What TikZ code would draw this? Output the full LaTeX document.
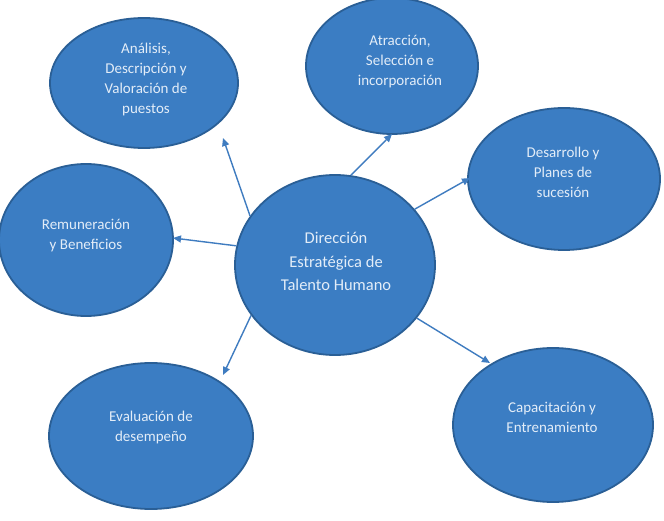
\documentclass[tikz,border=0pt]{standalone}
\usepackage{fontspec}
\setmainfont{Carlito}
\usetikzlibrary{shapes.geometric,arrows.meta,calc}
\definecolor{bubblefill}{HTML}{3B7DC3}
\definecolor{bubbleline}{HTML}{2A5F96}
\definecolor{bubbletext}{HTML}{E3EDF8}
\definecolor{arrowcol}{HTML}{3F7CC0}
\begin{document}
\begin{tikzpicture}[x=1pt,y=-1pt,
  bubble/.style={ellipse,draw=bubbleline,fill=bubblefill,line width=1.8pt,inner sep=0pt},
  label/.style={text=bubbletext,align=center,font=\fontsize{15}{20}\selectfont,inner sep=0pt},
  biglabel/.style={text=bubbletext,align=center,font=\fontsize{16.5}{23.5}\selectfont,inner sep=0pt},
  link/.style={draw=arrowcol,line width=1.4pt,-{Triangle[length=8pt,width=7pt]}}]
\useasboundingbox (0,0) rectangle (664,521);
\fill[white] (0,0) rectangle (664,521);
% ellipses
\node[bubble,minimum width=188pt,minimum height=130pt] (an) at (144,83) {};
\node[bubble,minimum width=172pt,minimum height=136pt] (at) at (392,66) {};
\node[bubble,minimum width=192pt,minimum height=142pt] (de) at (564,179) {};
\node[bubble,minimum width=174pt,minimum height=152pt] (re) at (86,240) {};
\node[bubble,minimum width=204pt,minimum height=146pt] (ev) at (151,436) {};
\node[bubble,minimum width=200pt,minimum height=154pt] (ca) at (553,425) {};
\node[bubble,minimum width=200pt,minimum height=180pt] (c) at (335,265) {};
% texts
\node[label] (tan) at (146,80) {Análisis,\\Descripción y\\Valoración de\\puestos};
\node[label] (tat) at (400,62) {Atracción,\\Selección e\\incorporación};
\node[label] (tde) at (563,172) {Desarrollo y\\Planes de\\sucesión};
\node[label] (tre) at (86,236) {Remuneración\\y Beneficios};
\node[label] (tev) at (151,427) {Evaluación de\\desempeño};
\node[label] (tca) at (552,417.5) {Capacitación y\\Entrenamiento};
\node[biglabel] (tc) at (336,261.5) {Dirección\\Estratégica de\\Talento Humano};
% connectors
\draw[link] (c.150) -- ($(an.center)+(79,55)$);
\draw[link] (c.80) -- ($(at.center)+(0,68)$);
\draw[link] (c.35) -- ($(de.center)+(-94,-1)$);
\draw[link] (c.169) -- ($(re.center)+(87,-2)$);
\draw[link] (c.211) -- ($(ev.center)+(72,-61)$);
\draw[link] (c.-33) -- ($(ca.center)+(-63,-62)$);
\end{tikzpicture}
\end{document}
